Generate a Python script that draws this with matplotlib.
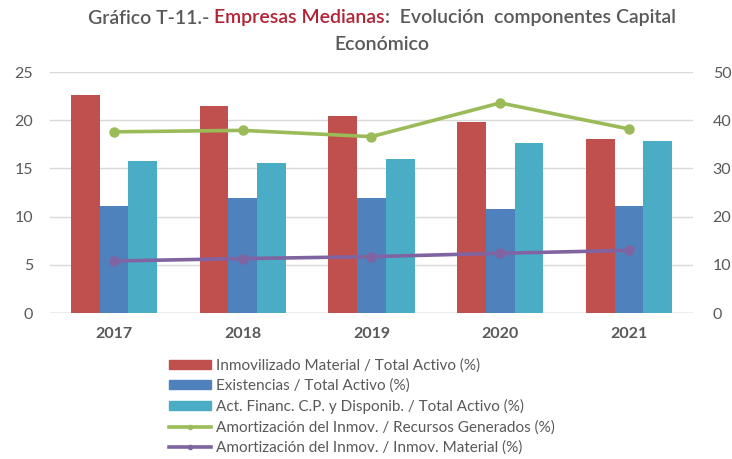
import matplotlib
matplotlib.use("Agg")
import matplotlib.pyplot as plt
import numpy as np
from matplotlib.lines import Line2D
from matplotlib.patches import Patch

years = ["2017", "2018", "2019", "2020", "2021"]
inmovilizado = [22.6, 21.5, 20.4, 19.8, 18.1]
existencias = [11.1, 11.9, 11.9, 10.8, 11.1]
act_financ = [15.8, 15.6, 16.0, 17.6, 17.8]
amort_recursos = [37.6, 37.9, 36.6, 43.6, 38.2]
amort_inmov = [10.8, 11.3, 11.7, 12.4, 13.0]

labels = ["Inmovilizado Material / Total Activo (%)",
          "Existencias / Total Activo (%)",
          "Act. Financ. C.P. y Disponib. / Total Activo (%)",
          "Amortización del Inmov. / Recursos Generados (%)",
          "Amortización del Inmov. / Inmov. Material (%)"]

c_red, c_blue, c_cyan, c_green, c_purple = "#C0504D", "#4F81BD", "#4BACC6", "#9BBB59", "#8064A2"
gray = "#595959"
plt.rcParams['font.family'] = ['Lato', 'DejaVu Sans']

fig = plt.figure(figsize=(7.32, 4.59), dpi=100)
ax = fig.add_axes([0.068, 0.318, 0.879, 0.525])
ax2 = ax.twinx()

x = np.arange(len(years))
w = 0.223
ax.bar(x - w, inmovilizado, w, color=c_red, zorder=2)
ax.bar(x, existencias, w, color=c_blue, zorder=2)
ax.bar(x + w, act_financ, w, color=c_cyan, zorder=2)

ax2.plot(x, amort_recursos, color=c_green, lw=2.6, marker='o', ms=6.5, zorder=3)
ax2.plot(x, amort_inmov, color=c_purple, lw=2.6, marker='o', ms=6.5, zorder=3)

ax.set_xlim(-0.5, len(years) - 0.5)
ax.set_ylim(0, 25)
ax2.set_ylim(0, 50)
ax.set_yticks(range(0, 26, 5))
ax2.set_yticks(range(0, 51, 10))
ax.set_xticks(x)
ax.set_xticklabels(years, fontsize=11.5, fontweight='bold', color=gray)
ax.yaxis.grid(True, color="#D9D9D9", lw=1, zorder=0)
ax.set_axisbelow(True)
for a in (ax, ax2):
    for s in ["top", "left", "right"]:
        a.spines[s].set_visible(False)
    a.spines["bottom"].set_visible(False)
    a.tick_params(length=0, labelsize=11.5, labelcolor=gray)
ax.axhline(0, color="#BFBFBF", lw=1, zorder=1)
ax.tick_params(axis='x', pad=10)
ax.tick_params(axis='y', pad=12)
ax2.tick_params(axis='y', pad=14)

handles = [Patch(color=c_red), Patch(color=c_blue), Patch(color=c_cyan),
           Line2D([], [], color=c_green, lw=2.6, marker='o', ms=3),
           Line2D([], [], color=c_purple, lw=2.6, marker='o', ms=3)]
fig.legend(handles, labels, loc='upper left', bbox_to_anchor=(0.221, 0.236),
           frameon=False, fontsize=11, labelcolor=gray, handlelength=2.7,
           handleheight=0.55, handletextpad=0.35, labelspacing=0.4, borderpad=0)

# Title with mixed colours
fig.canvas.draw()
r = fig.canvas.get_renderer()
parts = [("Gráfico T-11.- ", gray), ("Empresas Medianas", "#B22234"),
         (":  Evolución  componentes Capital", gray)]
y1 = 1 - 18 / 459
texts = []
for s, c in parts:
    t = fig.text(0, y1, s, fontsize=14, fontweight='semibold', color=c, va='center', ha='left')
    texts.append(t)
widths = [t.get_window_extent(r).width for t in texts]
total = sum(widths)
xstart = 382 - total / 2
for t, wdt in zip(texts, widths):
    t.set_x(xstart / 732)
    xstart += wdt
fig.text(382 / 732, 1 - 44 / 459, "Económico", fontsize=14, fontweight='semibold',
         color=gray, ha='center', va='center')

fig.savefig("out.png", dpi=100)
